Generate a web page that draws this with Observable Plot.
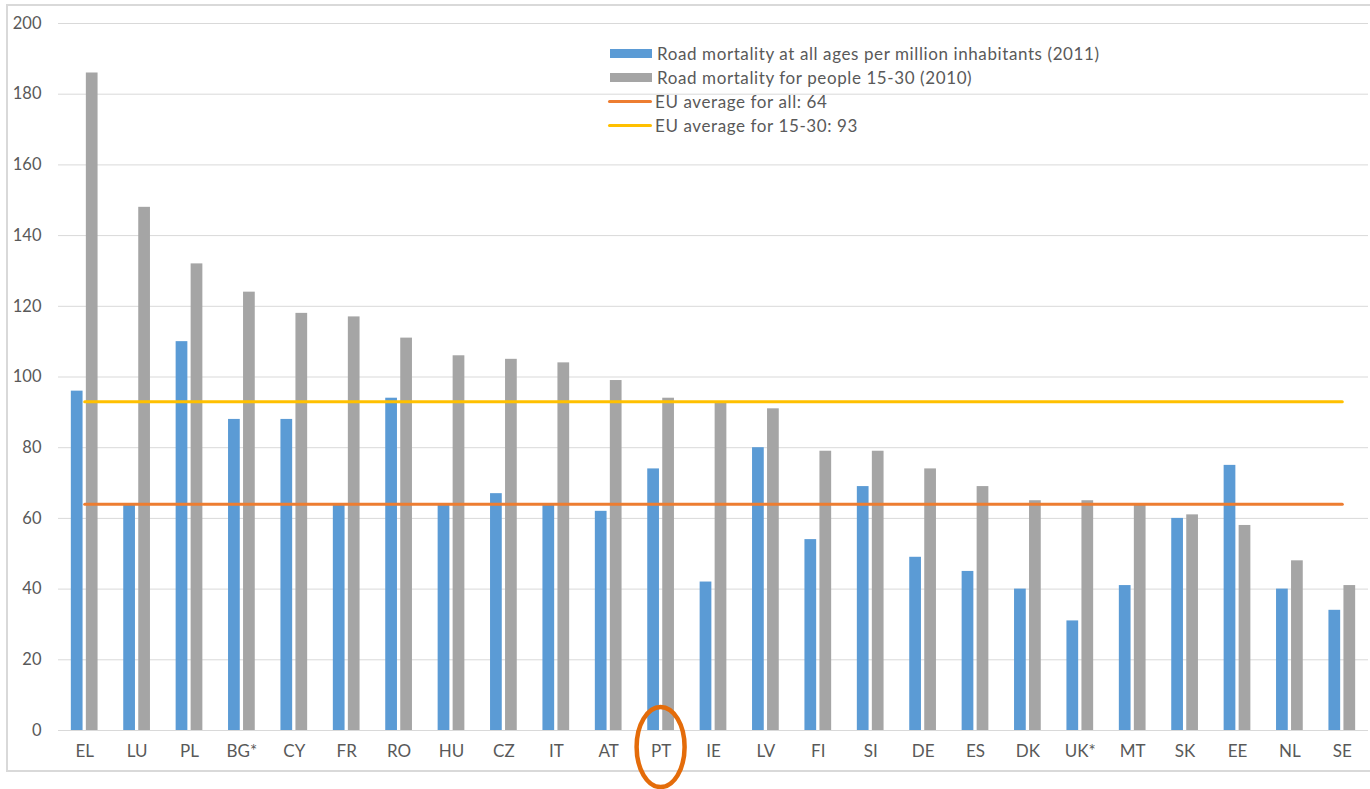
<!DOCTYPE html>
<html>
<head>
<meta charset="utf-8">
<script src="https://cdn.jsdelivr.net/npm/d3@7"></script>
<script src="https://cdn.jsdelivr.net/npm/@observablehq/plot@0.6"></script>
<style>
  html, body { margin: 0; padding: 0; background: #fff; }
  #wrap { position: relative; width: 1370px; height: 789px; overflow: hidden; font-family: Lato, "Open Sans", sans-serif; }
  #frame { position: absolute; left: 6px; top: 4px; width: 1380px; height: 768px; border: 2px solid #D9D9D9; box-sizing: border-box; }
  #legend { position: absolute; left: 608px; top: 41px; color: #595959; font-size: 17px; letter-spacing: 0.6px; white-space: nowrap; }
  .row { height: 24px; display: flex; align-items: center; }
  .sw { width: 42px; height: 9px; margin-right: 5px; flex: none; }
  .ln { width: 44px; height: 3px; border-radius: 2px; margin-right: 3px; flex: none; }
  svg { position: absolute; left: 0; top: 0; }
</style>
</head>
<body>
<div id="wrap">
  <div id="frame"></div>
  <div id="chart"></div>
  <div id="legend"></div>
</div>
<script>
const countries = ["EL","LU","PL","BG*","CY","FR","RO","HU","CZ","IT","AT","PT","IE","LV","FI","SI","DE","ES","DK","UK*","MT","SK","EE","NL","SE"];
const allAges2011 = [96,64,110,88,88,64,94,64,67,64,62,74,42,80,54,69,49,45,40,31,41,60,75,40,34];
const young2010 = [186,148,132,124,118,117,111,106,105,104,99,94,93,91,79,79,74,69,65,65,64,61,58,48,41];
const euAverageAll = 64;
const euAverageYoung = 93;
const seriesNames = ["Road mortality at all ages per million inhabitants (2011)", "Road mortality for people 15-30 (2010)"];
const averageNames = ["EU average for all: 64", "EU average for 15-30: 93"];
const yTicks = [0,20,40,60,80,100,120,140,160,180,200];
const highlighted = "PT";

const colors = { blue: "#5B9BD5", gray: "#A5A5A5", orange: "#ED7D31", yellow: "#FFC000", circle: "#E46C0A" };

const rowsAll = countries.map((c, i) => ({country: c, value: allAges2011[i]}));
const rowsYoung = countries.map((c, i) => ({country: c, value: young2010[i]}));
const avgAll = countries.map(c => ({country: c, value: euAverageAll}));
const avgYoung = countries.map(c => ({country: c, value: euAverageYoung}));

const plot = Plot.plot({
  width: 1370,
  height: 789,
  marginLeft: 58,
  marginRight: 2,
  marginTop: 23,
  marginBottom: 59,
  style: { fontFamily: "Lato, 'Open Sans', sans-serif", color: "#595959", background: "transparent" },
  x: { type: "band", domain: countries, paddingInner: 0.49, paddingOuter: 0.245, round: false, label: null },
  y: { domain: [0, 200], label: null },
  marks: [
    Plot.gridY(yTicks, { stroke: "#D9D9D9", strokeOpacity: 1, strokeWidth: 1 }),
    Plot.axisY(yTicks, { tickSize: 0, tickPadding: 17, fontSize: 16.5, label: null }),
    Plot.axisX({ tickSize: 0, tickPadding: 14, fontSize: 17, label: null }),
    Plot.barY(rowsAll, { x: "country", y: "value", fill: colors.blue, insetRight: 15 }),
    Plot.barY(rowsYoung, { x: "country", y: "value", fill: colors.gray, insetLeft: 15 }),
    Plot.lineY(avgAll, { x: "country", y: "value", stroke: colors.orange, strokeWidth: 3 }),
    Plot.lineY(avgYoung, { x: "country", y: "value", stroke: colors.yellow, strokeWidth: 3 })
  ]
});
document.getElementById("chart").appendChild(plot);

// Annotation ellipse around the highlighted category, positioned through the x scale
const xs = plot.scale("x");
const cx = xs.apply(highlighted) + xs.bandwidth / 2;
const ns = "http://www.w3.org/2000/svg";
const ell = document.createElementNS(ns, "ellipse");
ell.setAttribute("cx", cx);
ell.setAttribute("cy", 747);
ell.setAttribute("rx", 24);
ell.setAttribute("ry", 40);
ell.setAttribute("fill", "none");
ell.setAttribute("stroke", colors.circle);
ell.setAttribute("stroke-width", 4.5);
plot.appendChild(ell);

// Legend
const legend = document.getElementById("legend");
[[seriesNames[0], colors.blue, "sw"], [seriesNames[1], colors.gray, "sw"], [averageNames[0], colors.orange, "ln"], [averageNames[1], colors.yellow, "ln"]].forEach(([t, c, k]) => {
  const r = document.createElement("div"); r.className = "row";
  const s = document.createElement("div"); s.className = k; s.style.background = c;
  if (k === "sw") s.style.marginLeft = "2px";
  const tx = document.createElement("span"); tx.textContent = t;
  r.appendChild(s); r.appendChild(tx); legend.appendChild(r);
});
</script>
</body>
</html>
